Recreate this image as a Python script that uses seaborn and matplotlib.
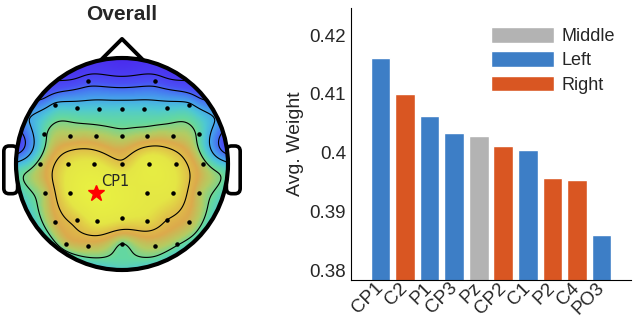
import numpy as np
import pandas as pd
import matplotlib
matplotlib.use("Agg")
import matplotlib.pyplot as plt
import seaborn as sns
from matplotlib.colors import LinearSegmentedColormap
from matplotlib.patches import Circle, FancyBboxPatch
from matplotlib.lines import Line2D

# bar chart data
bar_channels = ["CP1", "C2", "P1", "CP3", "Pz", "CP2", "C1", "P2", "C4", "PO3"]
bar_weights = [0.4161, 0.4100, 0.4063, 0.4033, 0.4028, 0.4012, 0.4005, 0.3958, 0.3954, 0.3860]
bar_sides = ["Left", "Right", "Left", "Left", "Middle", "Right", "Left", "Right", "Right", "Left"]
side_order = ["Middle", "Left", "Right"]
side_colors = {"Middle": "#b3b3b3", "Left": "#3d7ec6", "Right": "#d95622"}

# topographic map data (head radius = 1)
topo_names = ["AF3", "AF4",
              "F5", "F3", "F1", "Fz", "F2", "F4", "F6",
              "FC5", "FC3", "FC1", "FCz", "FC2", "FC4", "FC6",
              "C5", "C3", "C1", "Cz", "C2", "C4", "C6",
              "CP5", "CP3", "CP1", "CP2", "CP4", "CP6",
              "P5", "P3", "P1", "Pz", "P2", "P4", "P6",
              "PO5", "PO3", "POz", "PO4", "PO6"]
topo_x = [-0.32, 0.31,
          -0.63, -0.42, -0.22, 0.0, 0.21, 0.42, 0.63,
          -0.74, -0.49, -0.25, 0.0, 0.24, 0.48, 0.73,
          -0.77, -0.51, -0.26, 0.0, 0.25, 0.51, 0.76,
          -0.73, -0.49, -0.25, 0.24, 0.48, 0.73,
          -0.63, -0.42, -0.24, 0.0, 0.24, 0.42, 0.63,
          -0.53, -0.32, 0.0, 0.31, 0.52]
topo_y = [0.78, 0.78,
          0.56, 0.53, 0.52, 0.52, 0.52, 0.53, 0.56,
          0.28, 0.26, 0.26, 0.26, 0.26, 0.26, 0.28,
          0.0, 0.0, 0.0, 0.0, 0.0, 0.0, 0.0,
          -0.27, -0.27, -0.27, -0.27, -0.27, -0.27,
          -0.55, -0.53, -0.54, -0.51, -0.54, -0.53, -0.55,
          -0.75, -0.77, -0.75, -0.77, -0.75]
topo_values = [0.349, 0.349,
               0.368, 0.371, 0.372, 0.372, 0.372, 0.371, 0.368,
               0.376, 0.382, 0.382, 0.380, 0.382, 0.382, 0.376,
               0.381, 0.397, 0.400, 0.392, 0.405, 0.396, 0.381,
               0.382, 0.402, 0.412, 0.402, 0.399, 0.382,
               0.385, 0.393, 0.401, 0.400, 0.396, 0.390, 0.384,
               0.383, 0.384, 0.378, 0.382, 0.379]
# values at the scalp rim (angle in degrees, 0 = right ear, 90 = nose)
rim_angles = [90, 62, 118, 40, 140, 25, 155, 10, 170, -2, 182,
              -15, -165, -45, -135, -70, -110, -90]
rim_values = [0.328, 0.334, 0.334, 0.350, 0.350, 0.364, 0.364, 0.345, 0.345, 0.372, 0.372,
              0.374, 0.374, 0.374, 0.374, 0.373, 0.373, 0.373]

topo_levels = [0.342, 0.354, 0.366, 0.378, 0.390]
vmin, vmax = 0.320, 0.420
topo_colors = [(0.320, "#4a22ec"), (0.342, "#4a3ef2"), (0.350, "#4a50f4"),
               (0.356, "#4670f2"), (0.366, "#46a8ea"), (0.372, "#4ec8d4"),
               (0.377, "#64d8a0"), (0.381, "#b4cc62"), (0.386, "#dcaa4c"),
               (0.392, "#e0c448"), (0.399, "#e4e645"), (0.420, "#ecf840")]
topo_cmap = LinearSegmentedColormap.from_list(
    "topo", [((v - vmin) / (vmax - vmin), c) for v, c in topo_colors])


def biharmonic(px, py, pv, gx, gy):
    # biharmonic spline (griddata 'v4' style)
    def green(d):
        out = np.zeros_like(d)
        nz = d > 0
        out[nz] = d[nz] ** 2 * (np.log(d[nz]) - 1)
        return out
    d = np.hypot(px[:, None] - px[None, :], py[:, None] - py[None, :])
    w = np.linalg.solve(green(d), pv)
    dg = np.hypot(gx[..., None] - px, gy[..., None] - py)
    return green(dg) @ w


sns.set_style("white")
plt.rcParams["font.family"] = ["Liberation Sans", "DejaVu Sans"]

fig = plt.figure(figsize=(6.33, 3.30), dpi=100)

# ---- head map ----
scale = 106.0
ax_h = fig.add_axes([0, 0, 260 / 633, 1])
ax_h.set_xlim(-122 / scale, (260 - 122) / scale)
ax_h.set_ylim(-(330 - 164) / scale, 164 / scale)
ax_h.set_aspect("equal")
ax_h.axis("off")

ang = np.deg2rad(rim_angles)
px = np.concatenate([topo_x, np.cos(ang)])
py = np.concatenate([topo_y, np.sin(ang)])
pv = np.concatenate([topo_values, rim_values])
g = np.linspace(-1.02, 1.02, 260)
gx, gy = np.meshgrid(g, g)
gz = biharmonic(px, py, pv, gx, gy)

head = Circle((0, 0), 1.0, transform=ax_h.transData)
im = ax_h.imshow(gz, extent=[-1.02, 1.02, -1.02, 1.02], origin="lower",
                 cmap=topo_cmap, vmin=vmin, vmax=vmax, interpolation="bilinear", zorder=2)
im.set_clip_path(head)
cs = ax_h.contour(gx, gy, gz, levels=topo_levels, colors="black", linewidths=0.8, zorder=3)
cs.set_clip_path(head)

for xl in [-1.115, 0.985]:
    ax_h.add_patch(FancyBboxPatch((xl, -0.28), 0.13, 0.45,
                                  boxstyle="round,pad=0,rounding_size=0.05",
                                  fc="white", ec="black", lw=2.6, zorder=1))
ax_h.add_line(Line2D([-0.2, 0, 0.2], [0.98, 1.18, 0.98], color="black", lw=2.8, zorder=1))
ax_h.add_patch(Circle((0, 0), 1.0, fc="white", ec="none", zorder=1.5))
ax_h.add_patch(Circle((0, 0), 1.0, fc="none", ec="black", lw=3, zorder=5))

names = np.array(topo_names)
xs, ys = np.array(topo_x), np.array(topo_y)
is_star = names == "CP1"
ax_h.scatter(xs[~is_star], ys[~is_star], s=5, c="black", zorder=6)
ax_h.plot(xs[is_star], ys[is_star], marker="*", color="red",
          markersize=12, linestyle="none", zorder=7)
ax_h.text(xs[is_star][0] + 0.05, ys[is_star][0] + 0.03, "CP1",
          fontsize=10.5, family="DejaVu Sans", va="bottom", ha="left", zorder=7)
ax_h.text(0, 1.41, "Overall", fontsize=15, fontweight="bold", ha="center", va="center")

# ---- bar chart ----
ax = fig.add_axes([351 / 633, 50 / 330, 280 / 633, 272 / 330])
df = pd.DataFrame({"ch": bar_channels, "w": bar_weights, "side": bar_sides})
sns.barplot(data=df, x="ch", y="w", hue="side", hue_order=side_order, palette=side_colors,
            dodge=False, width=0.8, saturation=1, ax=ax)
ax.set_ylim(0.3784, 0.4246)
ax.set_xlim(-1.2, 10.2)
ax.set_yticks([0.38, 0.39, 0.40, 0.41, 0.42])
ax.set_yticklabels(["0.38", "0.39", "0.4", "0.41", "0.42"])
ax.set_xlabel("")
ax.set_ylabel("Avg. Weight", fontsize=14)
ax.tick_params(direction="in", length=3, labelsize=13.5, width=0.8)
ax.tick_params(axis="x", pad=4)
plt.setp(ax.get_xticklabels(), rotation=45, ha="right", va="center", rotation_mode="anchor")
sns.despine(ax=ax)
for s in ["left", "bottom"]:
    ax.spines[s].set_color("black")
    ax.spines[s].set_linewidth(0.8)
ax.legend(loc="upper right", bbox_to_anchor=(1.0, 0.99), frameon=False, fontsize=13,
          handlelength=3.5, handleheight=0.95, labelspacing=0.35, handletextpad=0.4)

fig.savefig("out.png", dpi=100)
